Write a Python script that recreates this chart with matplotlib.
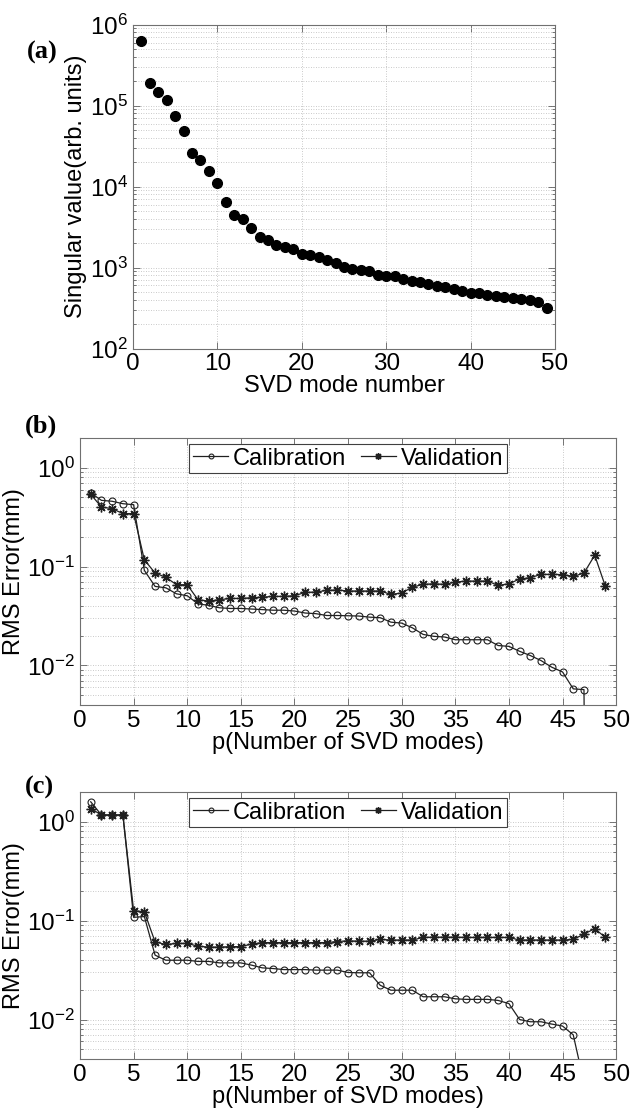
import numpy as np
import matplotlib
matplotlib.use("Agg")
import matplotlib.pyplot as plt
from matplotlib.ticker import LogLocator, NullFormatter, MultipleLocator

plt.rcParams['font.family'] = ['Liberation Sans', 'DejaVu Sans']
plt.rcParams['mathtext.fontset'] = 'custom'
plt.rcParams['mathtext.rm'] = 'Liberation Sans'

# (a) singular values
modes = np.arange(1, 50)
singular = [6.3e5, 1.89e5, 1.45e5, 1.16e5, 7.5e4, 4.9e4, 2.6e4, 2.1e4, 1.55e4, 1.1e4,
            6.4e3, 4.4e3, 4.0e3, 3.1e3, 2.4e3, 2.2e3, 1.9e3, 1.8e3, 1.7e3, 1.46e3,
            1.42e3, 1.33e3, 1.24e3, 1.13e3, 1.02e3, 970, 925, 910, 810, 790,
            780, 730, 685, 655, 620, 590, 567, 540, 515, 491,
            478, 456, 443, 435, 422, 410, 395, 370, 312]

# (b) RMS errors
cal_b = [0.554, 0.467, 0.457, 0.432, 0.422, 0.0915, 0.063, 0.061, 0.053, 0.0507,
         0.042, 0.0405, 0.0383, 0.0377, 0.0377, 0.0372, 0.0367, 0.0362, 0.0362, 0.0355,
         0.0339, 0.0334, 0.032, 0.032, 0.0318, 0.0316, 0.0308, 0.0304, 0.0274, 0.0268,
         0.024, 0.0206, 0.0197, 0.0194, 0.0182, 0.0182, 0.0182, 0.0182, 0.0159, 0.0156,
         0.0139, 0.0126, 0.0112, 0.0096, 0.0086, 0.0058, 0.0057, 1e-14, 1e-14]
val_b = [0.537, 0.40, 0.385, 0.343, 0.343, 0.117, 0.086, 0.078, 0.0655, 0.0655,
         0.0462, 0.0448, 0.0462, 0.0476, 0.0476, 0.0484, 0.049, 0.0499, 0.0499, 0.0507,
         0.0548, 0.0552, 0.0574, 0.058, 0.0566, 0.0566, 0.0566, 0.0566, 0.0523, 0.054,
         0.062, 0.066, 0.067, 0.066, 0.0697, 0.0713, 0.0713, 0.0713, 0.0645, 0.067,
         0.0748, 0.0772, 0.0833, 0.0833, 0.083, 0.0794, 0.086, 0.130, 0.063]

# (c) RMS errors
cal_c = [1.59, 1.17, 1.17, 1.17, 0.108, 0.11, 0.0448, 0.0398, 0.0398, 0.0398,
         0.0387, 0.0387, 0.0374, 0.0374, 0.0374, 0.0355, 0.0333, 0.0328, 0.032, 0.032,
         0.032, 0.0316, 0.0316, 0.0316, 0.0299, 0.0297, 0.0297, 0.0222, 0.0198, 0.0198,
         0.0198, 0.017, 0.017, 0.017, 0.0162, 0.016, 0.016, 0.016, 0.0156, 0.0145,
         0.0100, 0.0095, 0.0095, 0.0090, 0.0086, 0.0070, 0.0023, 1e-14, 1e-14]
val_c = [1.36, 1.17, 1.17, 1.17, 0.126, 0.123, 0.061, 0.0574, 0.0588, 0.0588,
         0.0552, 0.054, 0.054, 0.0546, 0.0546, 0.058, 0.06, 0.06, 0.06, 0.06,
         0.06, 0.06, 0.06, 0.0615, 0.0625, 0.062, 0.062, 0.0645, 0.0637, 0.0637,
         0.0637, 0.0676, 0.068, 0.068, 0.068, 0.0676, 0.0676, 0.0676, 0.0676, 0.0676,
         0.0637, 0.0637, 0.0637, 0.0637, 0.0637, 0.0645, 0.073, 0.083, 0.0676]

fig = plt.figure(figsize=(6.3, 11.17), dpi=100)

grid_kw = dict(color='#b8b8b8', linestyle=(0, (1, 2)), linewidth=0.6)


def style_axes(ax, xstep, ylim):
    ax.set_yscale('log')
    ax.set_xlim(0, 50)
    ax.set_ylim(*ylim)
    ax.xaxis.set_major_locator(MultipleLocator(xstep))
    ax.yaxis.set_major_locator(LogLocator(base=10, numticks=20))
    ax.yaxis.set_minor_locator(LogLocator(base=10, subs=np.arange(2, 10), numticks=20))
    ax.yaxis.set_minor_formatter(NullFormatter())
    ax.grid(True, which='major', **grid_kw)
    ax.grid(True, which='minor', axis='y', **grid_kw)
    ax.tick_params(which='both', direction='in', top=True, right=True,
                   labelsize=17.5, color='#606060', width=0.6)
    ax.tick_params(which='major', length=5)
    ax.tick_params(which='minor', length=2.5)
    for s in ax.spines.values():
        s.set_color('#707070')
        s.set_linewidth(0.8)
    ax.set_axisbelow(True)


# (a)
ax1 = fig.add_axes([0.211, 0.688, 0.670, 0.290])
ax1.plot(modes, singular, 'o', color='black', markersize=7)
style_axes(ax1, 10, (1e2, 1e6))
ax1.set_xlabel('SVD mode number', fontsize=17, labelpad=0)
ax1.set_ylabel('Singular value(arb. units)', fontsize=17, labelpad=2)
fig.text(0.043, 0.953, '(a)', fontsize=19, fontweight='bold',
         family='Liberation Serif', va='center')

# (b) and (c)
star = (8, 2, 0)
for pos, cal, val, lab, ly in [([0.127, 0.369, 0.851, 0.239], cal_b, val_b, '(b)', 0.618),
                               ([0.127, 0.052, 0.851, 0.239], cal_c, val_c, '(c)', 0.295)]:
    ax = fig.add_axes(pos)
    ax.plot(modes, cal, '-o', color='#202020', markersize=5, linewidth=0.9,
            markerfacecolor='none', markeredgewidth=0.8, label='Calibration')
    ax.plot(modes, val, '-', marker=star, color='#202020', markersize=7, linewidth=0.9,
            markeredgewidth=1.0, label='Validation')
    style_axes(ax, 5, (0.004, 2))
    ax.set_xlabel('p(Number of SVD modes)', fontsize=17, labelpad=0)
    ax.set_ylabel('RMS Error(mm)', fontsize=17, labelpad=2)
    leg = ax.legend(loc='upper center', bbox_to_anchor=(0.5, 0.977), ncol=2,
                    fontsize=17, fancybox=False, framealpha=1, edgecolor='#404040',
                    handlelength=1.5, handletextpad=0.2, columnspacing=0.6,
                    borderpad=0.15, borderaxespad=0, markerscale=0.7)
    leg.get_frame().set_linewidth(0.8)
    fig.text(0.04, ly, lab, fontsize=19, fontweight='bold',
             family='Liberation Serif', va='center')

fig.savefig('out.png', dpi=100)
